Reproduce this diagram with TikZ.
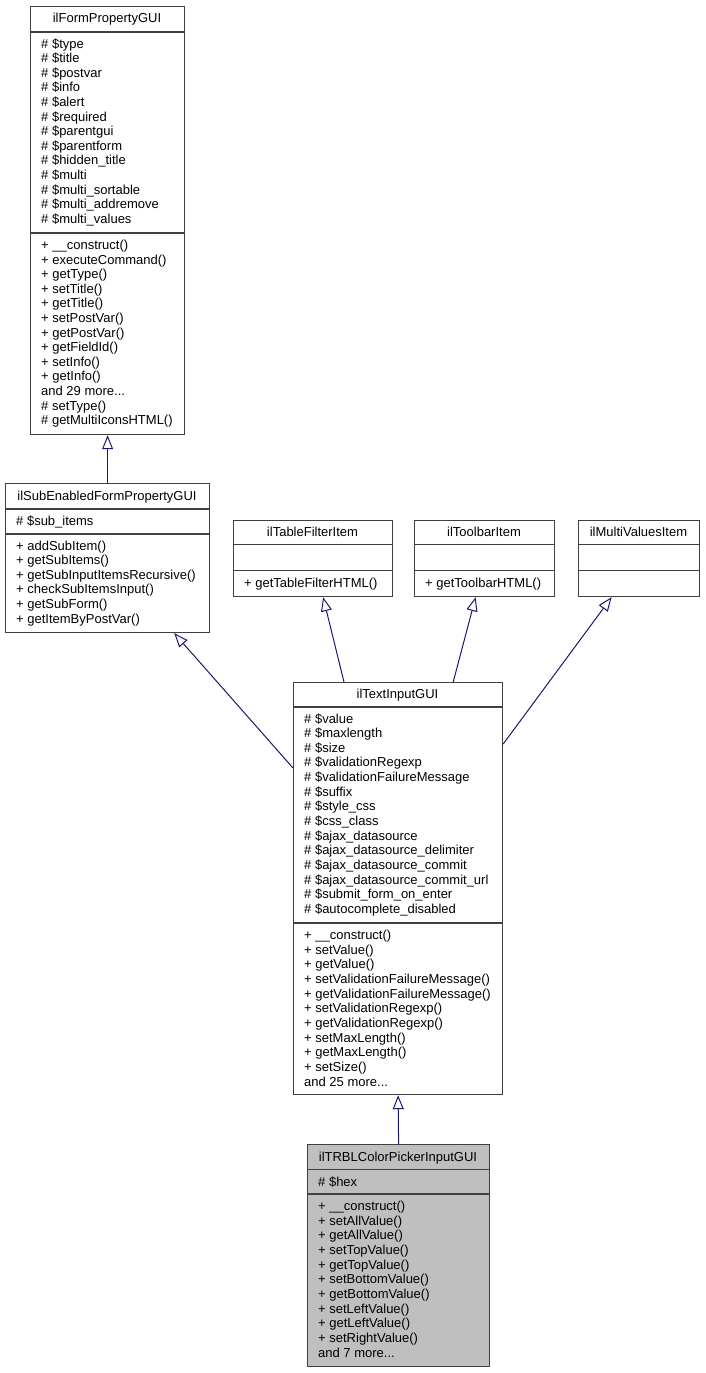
\documentclass[tikz,border=0pt]{standalone}
\usepackage{fontspec}
\setmainfont{Liberation Sans}
\usetikzlibrary{arrows.meta}
\definecolor{edgecol}{HTML}{191970}
\definecolor{boxline}{HTML}{404040}
\definecolor{boxgray}{HTML}{BFBFBF}
\newcommand\andmore[1]{and #1 more...}
\tikzset{
 clsbox/.style={draw=boxline, line width=1.2pt, fill=white, inner sep=0pt, anchor=north west},
 sepline/.style={draw=boxline, line width=1.2pt},
 ttl/.style={anchor=base, inner sep=0pt, font=\fontsize{13}{14.6}\selectfont},
 mem/.style={anchor=base west, inner sep=0pt, font=\fontsize{13}{14.6}\selectfont},
 inh/.style={draw=edgecol, line width=1pt, -{Triangle[length=14pt,width=11pt,fill=white]}},
}
\begin{document}
\begin{tikzpicture}[x=1pt,y=-1pt]
\useasboundingbox[fill=white] (0,0) rectangle (706,1373);

% ilFormPropertyGUI
\node[clsbox, minimum width=154pt, minimum height=428pt] (fp) at (30,6) {};
\draw[sepline] (30,32) -- (184,32);
\draw[sepline] (30,233) -- (184,233);
\node[ttl] (fpt) at (107,23) {ilFormPropertyGUI};
\foreach \t [count=\i from 0] in {\# \$type,\# \$title,\# \$postvar,\# \$info,\# \$alert,\# \$required,\# \$parentgui,\# \$parentform,\# \$hidden\_title,\# \$multi,\# \$multi\_sortable,\# \$multi\_addremove,\# \$multi\_values}
  \node[mem] (fpa\i) at (41,48+\i*14.6) {\t};
\foreach \t [count=\i from 0] in {+ \_\_construct(),+ executeCommand(),+ getType(),+ setTitle(),+ getTitle(),+ setPostVar(),+ getPostVar(),+ getFieldId(),+ setInfo(),+ getInfo(),\andmore{29},\# setType(),\# getMultiIconsHTML()}
  \node[mem] (fpm\i) at (41,249.5+\i*14.6) {\t};

% ilSubEnabledFormPropertyGUI
\node[clsbox, minimum width=204pt, minimum height=149pt] (sub) at (5,483) {};
\draw[sepline] (5,509) -- (209,509);
\draw[sepline] (5,534) -- (209,534);
\node[ttl] (subt) at (107,500) {ilSubEnabledFormPropertyGUI};
\node[mem] (suba0) at (16,525) {\# \$sub\_items};
\foreach \t [count=\i from 0] in {+ addSubItem(),+ getSubItems(),+ getSubInputItemsRecursive(),+ checkSubItemsInput(),+ getSubForm(),+ getItemByPostVar()}
  \node[mem] (subm\i) at (16,550+\i*14.6) {\t};

% ilTableFilterItem
\node[clsbox, minimum width=159pt, minimum height=76pt] (tfi) at (233,520) {};
\draw[sepline] (233,544.5) -- (392,544.5);
\draw[sepline] (233,570.5) -- (392,570.5);
\node[ttl] (tfit) at (312.5,536) {ilTableFilterItem};
\node[mem] (tfim0) at (244,587) {+ getTableFilterHTML()};

% ilToolbarItem
\node[clsbox, minimum width=140pt, minimum height=76pt] (tbi) at (414,520) {};
\draw[sepline] (414,544.5) -- (554,544.5);
\draw[sepline] (414,570.5) -- (554,570.5);
\node[ttl] (tbit) at (484,536) {ilToolbarItem};
\node[mem] (tbim0) at (425,587) {+ getToolbarHTML()};

% ilMultiValuesItem
\node[clsbox, minimum width=121pt, minimum height=76pt] (mvi) at (578,520) {};
\draw[sepline] (578,544.5) -- (699,544.5);
\draw[sepline] (578,570.5) -- (699,570.5);
\node[ttl] (mvit) at (638.5,536) {ilMultiValuesItem};

% ilTextInputGUI
\node[clsbox, minimum width=209pt, minimum height=412pt] (tig) at (293,682) {};
\draw[sepline] (293,707) -- (502,707);
\draw[sepline] (293,923) -- (502,923);
\node[ttl] (tigt) at (397.5,698.5) {ilTextInputGUI};
\foreach \t [count=\i from 0] in {\# \$value,\# \$maxlength,\# \$size,\# \$validationRegexp,\# \$validationFailureMessage,\# \$suffix,\# \$style\_css,\# \$css\_class,\# \$ajax\_datasource,\# \$ajax\_datasource\_delimiter,\# \$ajax\_datasource\_commit,\# \$ajax\_datasource\_commit\_url,\# \$submit\_form\_on\_enter,\# \$autocomplete\_disabled}
  \node[mem] (tiga\i) at (304,723+\i*14.64) {\t};
\foreach \t [count=\i from 0] in {+ \_\_construct(),+ setValue(),+ getValue(),+ setValidationFailureMessage(),+ getValidationFailureMessage(),+ setValidationRegexp(),+ getValidationRegexp(),+ setMaxLength(),+ getMaxLength(),+ setSize(),\andmore{25}}
  \node[mem] (tigm\i) at (304,939.5+\i*14.66) {\t};

% ilTRBLColorPickerInputGUI
\node[clsbox, fill=boxgray, minimum width=182pt, minimum height=222pt] (trbl) at (307,1144) {};
\draw[sepline] (307,1169.5) -- (489,1169.5);
\draw[sepline] (307,1194) -- (489,1194);
\node[ttl] (trblt) at (398,1161) {ilTRBLColorPickerInputGUI};
\node[mem] (trbla0) at (318,1186) {\# \$hex};
\foreach \t [count=\i from 0] in {+ \_\_construct(),+ setAllValue(),+ getAllValue(),+ setTopValue(),+ getTopValue(),+ setBottomValue(),+ getBottomValue(),+ setLeftValue(),+ getLeftValue(),+ setRightValue(),\andmore{7}}
  \node[mem] (trblm\i) at (318,1210.5+\i*14.66) {\t};

% inheritance connectors
\draw[inh] (sub.north) -- (fp.south);
\draw[inh] ([yshift=-86pt]tig.north west) -- ([xshift=-36pt]sub.south east);
\draw[inh] ([xshift=51pt]tig.north west) -- ([xshift=10pt]tfi.south);
\draw[inh] ([xshift=-50pt]tig.north east) -- ([xshift=-9pt]tbi.south);
\draw[inh] ([yshift=-62pt]tig.north east) -- ([xshift=-27.5pt]mvi.south);
\draw[inh] (trbl.north) -- (tig.south);
\end{tikzpicture}
\end{document}
